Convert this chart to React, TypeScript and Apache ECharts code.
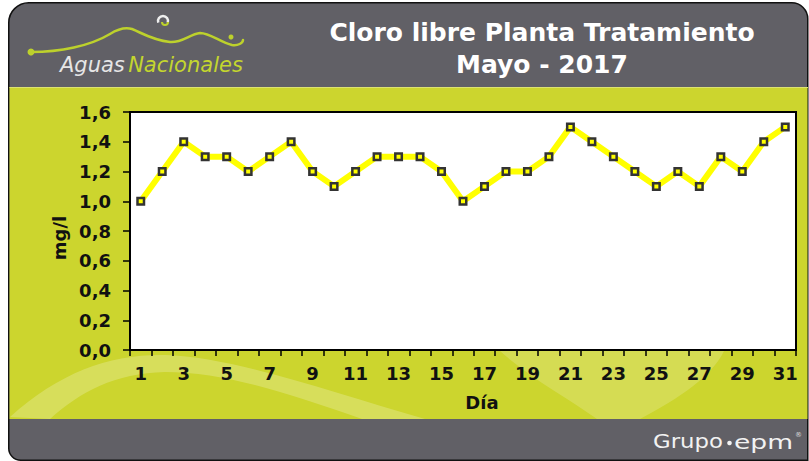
import React, { useEffect, useRef } from "react";
import * as echarts from "echarts";

const days = ["1","2","3","4","5","6","7","8","9","10","11","12","13","14","15","16","17","18","19","20","21","22","23","24","25","26","27","28","29","30","31"];
const cloro = [1.0,1.2,1.4,1.3,1.3,1.2,1.3,1.4,1.2,1.1,1.2,1.3,1.3,1.3,1.2,1.0,1.1,1.2,1.2,1.3,1.5,1.4,1.3,1.2,1.1,1.2,1.1,1.3,1.2,1.4,1.5];
const yTickLabels = ["0,0","0,2","0,4","0,6","0,8","1,0","1,2","1,4","1,6"];
const titleLines = ["Cloro libre Planta Tratamiento", "Mayo - 2017"];

const GRAY = "#616066";
const GREEN = "#CCD52E";
const FONT = "'DejaVu Sans', sans-serif";

echarts.graphic.registerShape(
  "swooshA",
  echarts.graphic.extendPath(
    "M 10 417 C 60 372, 110 354, 165 355 C 235 357, 330 392, 425 419 L 362 419 C 290 394, 225 372, 165 372 C 115 373, 80 392, 50 419 Z",
    {}
  )
);
echarts.graphic.registerShape(
  "swooshB",
  echarts.graphic.extendPath(
    "M 500 351 C 530 378, 568 398, 597 419 L 640 419 C 680 398, 712 376, 724 351 Z",
    {}
  )
);
echarts.graphic.registerShape(
  "wave",
  echarts.graphic.extendPath(
    "M 31 52 C 60 52, 90 46, 110 34 C 118 29, 125 27, 132 29 C 142 33, 152 40, 170 42 C 182 43, 190 34, 200 33 C 210 33, 220 42, 232 45 C 238 46, 243 43, 243 40",
    {}
  )
);

export default function App() {
  const ref = useRef<HTMLDivElement>(null);
  useEffect(() => {
    if (!ref.current) return;
    const chart = echarts.init(ref.current, undefined, { renderer: "svg" });
    chart.setOption({
      animation: false,
      graphic: [
        {
          type: "rect",
          z: -10,
          silent: true,
          shape: { x: 8.75, y: 2.75, width: 799, height: 457.5, r: [20, 16, 0, 12] },
          style: { fill: GRAY, stroke: "#111", lineWidth: 1.5 },
        },
        {
          type: "rect",
          z: -9,
          silent: true,
          shape: { x: 9.5, y: 87, width: 798, height: 332 },
          style: { fill: GREEN },
        },
        {
          type: "line",
          z: -8,
          silent: true,
          shape: { x1: 9.5, y1: 87.5, x2: 808, y2: 87.5 },
          style: { stroke: "#DCE370", lineWidth: 1 },
        },
        {
          type: "swooshA",
          z: -8,
          silent: true,
          x: 0,
          y: 0,
          style: { fill: "rgba(255,255,255,0.22)" },
        },
        {
          type: "swooshB",
          z: -8,
          silent: true,
          x: 0,
          y: 0,
          style: { fill: "rgba(255,255,255,0.18)" },
        },
        {
          type: "wave",
          z: 5,
          silent: true,
          x: 0,
          y: 0,
          style: { fill: "none", stroke: "#BDD12C", lineWidth: 2.5, lineCap: "round" },
        },
        { type: "circle", z: 5, silent: true, shape: { cx: 31, cy: 52, r: 3.5 }, style: { fill: "#BDD12C" } },
        { type: "circle", z: 5, silent: true, shape: { cx: 231, cy: 37, r: 2.5 }, style: { fill: "#BDD12C" } },
        {
          type: "arc",
          z: 5,
          silent: true,
          shape: { cx: 163, cy: 21, r: 5, startAngle: Math.PI * 0.9, endAngle: Math.PI * 2.1 },
          style: { stroke: "#EEEEEE", lineWidth: 2.5, fill: "none" },
        },
        {
          type: "arc",
          z: 5,
          silent: true,
          shape: { cx: 165, cy: 22, r: 3, startAngle: 0, endAngle: Math.PI },
          style: { stroke: "#BDD12C", lineWidth: 2, fill: "none" },
        },
        {
          type: "text",
          z: 5,
          silent: true,
          x: 60,
          y: 65,
          style: {
            text: "{a|Aguas} {b|Nacionales}",
            textVerticalAlign: "middle",
            rich: {
              a: { fill: "#E6E6E6", font: `italic 21px ${FONT}` },
              b: { fill: "#C4D62E", font: `italic 21px ${FONT}` },
            },
          },
        },
        {
          type: "text",
          z: 5,
          silent: true,
          x: 542,
          y: 32,
          style: {
            text: titleLines[0],
            fill: "#FFFFFF",
            font: `bold 25px ${FONT}`,
            textAlign: "center",
            textVerticalAlign: "middle",
          },
        },
        {
          type: "text",
          z: 5,
          silent: true,
          x: 542,
          y: 64,
          style: {
            text: titleLines[1],
            fill: "#FFFFFF",
            font: `bold 25px ${FONT}`,
            textAlign: "center",
            textVerticalAlign: "middle",
          },
        },
        {
          type: "text",
          z: 5,
          silent: true,
          x: 653,
          y: 442,
          scaleX: 1.2,
          style: {
            text: "Grupo",
            fill: "#F2F2F2",
            font: `19px ${FONT}`,
            textAlign: "left",
            textVerticalAlign: "middle",
          },
        },
        { type: "circle", z: 5, silent: true, shape: { cx: 729.5, cy: 443, r: 2.3 }, style: { fill: "#F2F2F2" } },
        {
          type: "text",
          z: 5,
          silent: true,
          x: 734,
          y: 442,
          scaleX: 1.4,
          style: {
            text: "epm",
            fill: "#F2F2F2",
            font: `19px ${FONT}`,
            textAlign: "left",
            textVerticalAlign: "middle",
          },
        },
        {
          type: "text",
          z: 5,
          silent: true,
          x: 795,
          y: 435,
          style: {
            text: "\u00AE",
            fill: "#DDDDDD",
            font: `7px ${FONT}`,
            textAlign: "left",
            textVerticalAlign: "middle",
          },
        },
      ],
      grid: {
        left: 130,
        top: 112,
        right: 13,
        bottom: 111,
        show: true,
        backgroundColor: "#FFFFFF",
        borderColor: "#000000",
        borderWidth: 2,
      },
      xAxis: {
        type: "category",
        data: days,
        boundaryGap: true,
        name: "Día",
        nameLocation: "middle",
        nameGap: 43,
        nameTextStyle: {
          fontFamily: FONT,
          fontWeight: "bold",
          fontSize: 18,
          color: "#111",
          verticalAlign: "top",
          padding: [0, 0, 0, 38],
        },
        axisLine: { show: true, lineStyle: { color: "#000", width: 2 } },
        axisTick: { show: true, interval: 0, length: 6, lineStyle: { color: "#000", width: 1.5 } },
        axisLabel: {
          interval: 1,
          margin: 14,
          fontFamily: FONT,
          fontWeight: "bold",
          fontSize: 18,
          color: "#111",
        },
        splitLine: { show: false },
      },
      yAxis: {
        type: "value",
        min: 0,
        max: 1.6,
        interval: 0.2,
        name: "mg/l",
        nameLocation: "middle",
        nameGap: 62,
        nameTextStyle: {
          fontFamily: FONT,
          fontWeight: "bold",
          fontSize: 18,
          color: "#111",
          padding: [0, 14, 0, 0],
        },
        axisLine: { show: true, lineStyle: { color: "#000", width: 2 } },
        axisTick: { show: true, length: 7, lineStyle: { color: "#000", width: 1.5 } },
        axisLabel: {
          margin: 19,
          fontFamily: FONT,
          fontWeight: "bold",
          fontSize: 18,
          color: "#111",
          formatter: (v: number) => yTickLabels[Math.round(v / 0.2)] ?? "",
        },
        splitLine: {
          show: true,
          lineStyle: {
            color: "#2a2a2a",
            width: 1,
            shadowColor: "rgba(0,0,0,0.35)",
            shadowOffsetY: 1,
            shadowBlur: 1,
          },
        },
      },
      series: [
        {
          type: "line",
          data: cloro,
          symbol: "rect",
          symbolSize: 6.5,
          lineStyle: { color: "#FFFF00", width: 6 },
          itemStyle: { color: "#FFFF00", borderColor: "#333333", borderWidth: 2.5 },
        },
      ],
    });
    return () => chart.dispose();
  }, []);
  return (
    <div
      ref={ref}
      style={{ position: "absolute", left: 0, top: 0, width: 809, height: 461 }}
    />
  );
}
